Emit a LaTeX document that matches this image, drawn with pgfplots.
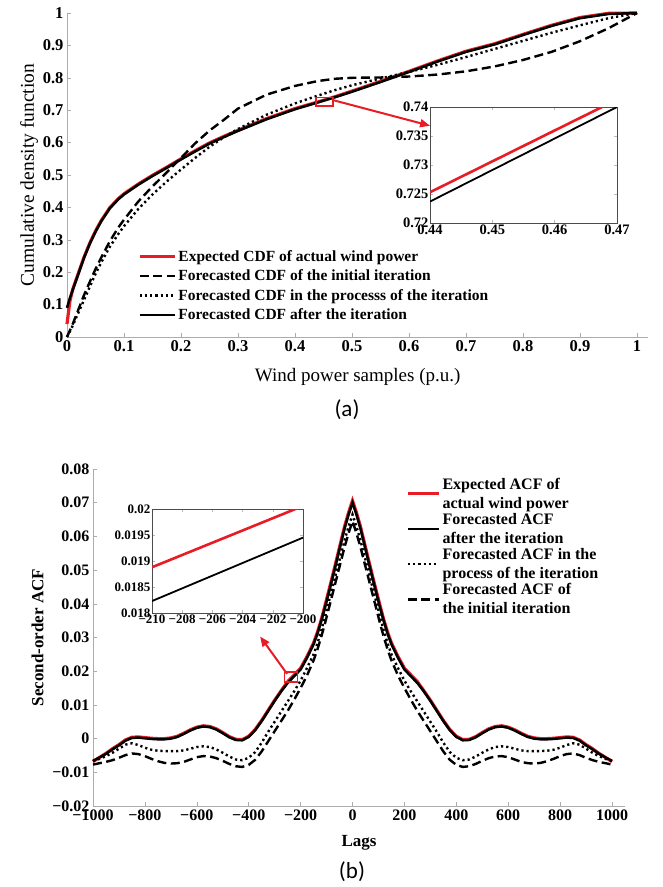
\documentclass[border=0pt]{standalone}
\usepackage{pgfplots}
\pgfplotsset{compat=1.18}
\usepackage{pgfplotstable}
\usepackage{fontspec}
\setmainfont{Liberation Serif}
\newfontfamily\capfont{Carlito}
\usetikzlibrary{arrows.meta}
\newcommand{\fs}[1]{\fontsize{#1}{#1}\selectfont}
\definecolor{myred}{RGB}{232,28,36}

\pgfplotstableread{
x     exp     init   proc   after
0     0.040   0.000  0.000  0.090
0.005 0.110   0.020  0.017  0.120
0.01  0.147   0.040  0.035  0.145
0.02  0.197   0.085  0.075  0.195
0.03  0.247   0.130  0.115  0.245
0.04  0.290   0.170  0.155  0.288
0.05  0.327   0.210  0.195  0.325
0.06  0.359   0.245  0.230  0.357
0.075 0.399   0.295  0.278  0.397
0.09  0.427   0.338  0.318  0.425
0.1   0.442   0.362  0.342  0.440
0.125 0.472   0.418  0.395  0.470
0.15  0.499   0.465  0.440  0.497
0.175 0.524   0.508  0.480  0.522
0.2   0.550   0.553  0.517  0.548
0.225 0.575   0.598  0.553  0.573
0.25  0.599   0.637  0.587  0.597
0.275 0.619   0.670  0.616  0.617
0.3   0.638   0.705  0.642  0.636
0.35  0.674   0.748  0.686  0.672
0.4   0.705   0.775  0.721  0.703
0.44  0.7253  0.790  0.745  0.724
0.47  0.7415  0.797  0.762  0.740
0.5   0.759   0.800  0.777  0.757
0.55  0.789   0.801  0.798  0.787
0.6   0.820   0.804  0.818  0.818
0.65  0.852   0.810  0.840  0.850
0.7   0.882   0.820  0.864  0.880
0.75  0.905   0.835  0.889  0.903
0.8   0.934   0.855  0.914  0.932
0.85  0.962   0.880  0.939  0.960
0.9   0.986   0.913  0.962  0.984
0.95  0.999   0.953  0.984  0.997
1.0   1.000   1.000  1.000  1.000
}\cdftab

\pgfplotstableread{
lag exp after proc init
-1000 -0.0068 -0.0066 -0.0067 -0.0077
-975 -0.0056 -0.0056 -0.0060 -0.0073
-950 -0.0044 -0.0045 -0.0052 -0.0069
-925 -0.0030 -0.0032 -0.0042 -0.0064
-900 -0.0018 -0.0020 -0.0030 -0.0057
-875 -0.0004 -0.0006 -0.0018 -0.0049
-850 0.0004 0.0002 -0.0014 -0.0044
-825 0.0005 0.0003 -0.0019 -0.0046
-800 0.0003 0.0001 -0.0027 -0.0052
-775 0.0001 -0.0001 -0.0033 -0.0060
-750 0.0000 -0.0002 -0.0036 -0.0067
-725 0.0000 -0.0002 -0.0037 -0.0072
-700 0.0002 0.0000 -0.0037 -0.0074
-675 0.0007 0.0005 -0.0037 -0.0073
-650 0.0016 0.0014 -0.0035 -0.0069
-625 0.0026 0.0024 -0.0030 -0.0062
-600 0.0034 0.0032 -0.0025 -0.0055
-575 0.0038 0.0036 -0.0023 -0.0052
-550 0.0036 0.0034 -0.0025 -0.0053
-525 0.0029 0.0027 -0.0032 -0.0058
-500 0.0018 0.0016 -0.0042 -0.0066
-475 0.0006 0.0004 -0.0053 -0.0075
-450 -0.0002 -0.0004 -0.0062 -0.0082
-425 -0.0003 -0.0005 -0.0064 -0.0084
-400 0.0007 0.0005 -0.0057 -0.0078
-375 0.0027 0.0025 -0.0040 -0.0063
-350 0.0054 0.0052 -0.0012 -0.0038
-325 0.0084 0.0082 0.0020 -0.0008
-300 0.0114 0.0112 0.0050 0.0022
-275 0.0142 0.0140 0.0080 0.0052
-250 0.0169 0.0165 0.0110 0.0082
-225 0.0189 0.0185 0.0140 0.0115
-200 0.0209 0.0205 0.0172 0.0150
-175 0.0244 0.0240 0.0210 0.0188
-150 0.0284 0.0280 0.0250 0.0232
-135 0.0316 0.0312 0.0283 0.0265
-120 0.0354 0.0350 0.0322 0.0303
-105 0.0398 0.0392 0.0365 0.0345
-90 0.0443 0.0437 0.0410 0.0390
-75 0.0489 0.0483 0.0455 0.0435
-60 0.0536 0.0530 0.0500 0.0480
-45 0.0584 0.0578 0.0545 0.0525
-30 0.0631 0.0625 0.0590 0.0570
-15 0.0671 0.0665 0.0630 0.0610
0 0.0706 0.0700 0.0665 0.0645
15 0.0671 0.0665 0.0630 0.0610
30 0.0631 0.0625 0.0590 0.0570
45 0.0584 0.0578 0.0545 0.0525
60 0.0536 0.0530 0.0500 0.0480
75 0.0489 0.0483 0.0455 0.0435
90 0.0443 0.0437 0.0410 0.0390
105 0.0398 0.0392 0.0365 0.0345
120 0.0354 0.0350 0.0322 0.0303
135 0.0316 0.0312 0.0283 0.0265
150 0.0284 0.0280 0.0250 0.0232
175 0.0244 0.0240 0.0210 0.0188
200 0.0209 0.0205 0.0172 0.0150
225 0.0189 0.0185 0.0140 0.0115
250 0.0169 0.0165 0.0110 0.0082
275 0.0142 0.0140 0.0080 0.0052
300 0.0114 0.0112 0.0050 0.0022
325 0.0084 0.0082 0.0020 -0.0008
350 0.0054 0.0052 -0.0012 -0.0038
375 0.0027 0.0025 -0.0040 -0.0063
400 0.0007 0.0005 -0.0057 -0.0078
425 -0.0003 -0.0005 -0.0064 -0.0084
450 -0.0002 -0.0004 -0.0062 -0.0082
475 0.0006 0.0004 -0.0053 -0.0075
500 0.0018 0.0016 -0.0042 -0.0066
525 0.0029 0.0027 -0.0032 -0.0058
550 0.0036 0.0034 -0.0025 -0.0053
575 0.0038 0.0036 -0.0023 -0.0052
600 0.0034 0.0032 -0.0025 -0.0055
625 0.0026 0.0024 -0.0030 -0.0062
650 0.0016 0.0014 -0.0035 -0.0069
675 0.0007 0.0005 -0.0037 -0.0073
700 0.0002 0.0000 -0.0037 -0.0074
725 0.0000 -0.0002 -0.0037 -0.0072
750 0.0000 -0.0002 -0.0036 -0.0067
775 0.0001 -0.0001 -0.0033 -0.0060
800 0.0003 0.0001 -0.0027 -0.0052
825 0.0005 0.0003 -0.0019 -0.0046
850 0.0004 0.0002 -0.0014 -0.0044
875 -0.0004 -0.0006 -0.0018 -0.0049
900 -0.0018 -0.0020 -0.0030 -0.0057
925 -0.0030 -0.0032 -0.0042 -0.0064
950 -0.0044 -0.0045 -0.0052 -0.0069
975 -0.0056 -0.0056 -0.0060 -0.0073
1000 -0.0068 -0.0066 -0.0067 -0.0077
}\acftab

\pgfplotsset{
  mainax/.style={scale only axis, axis lines=left,
    axis line style={-, draw=gray!65, line width=0.8pt},
    tick style={draw=gray!65, line width=0.6pt}, major tick length=4pt,
    tick align=inside, clip=false, scaled ticks=false},
  insetax/.style={scale only axis, axis background/.style={fill=white},
    axis line style={draw=black!70, line width=0.8pt},
    tick style={draw=gray!55, line width=0.5pt}, major tick length=3pt,
    tick align=inside, scaled ticks=false},
  redln/.style={draw=myred, line width=3.2pt},
  blkln/.style={draw=black, line width=2.5pt},
  dashln/.style={draw=black, line width=2.4pt, dash pattern=on 9pt off 4.5pt},
  dotln/.style={draw=black, line width=2.4pt, dash pattern=on 2.2pt off 3pt},
}

\begin{document}
\begin{tikzpicture}
\path[use as bounding box] (0pt,0pt) rectangle (663pt,-887pt);

% ---------- panel (a) ----------
\begin{axis}[mainax, at={(67pt,-337pt)}, anchor=south west,
  width=581.4pt, height=324pt, xmin=0, xmax=1.02, ymin=0, ymax=1,
  xtick={0,0.1,0.2,0.3,0.4,0.5,0.6,0.7,0.8,0.9,1},
  xticklabels={0,0.1,0.2,0.3,0.4,0.5,0.6,0.7,0.8,0.9,1},
  ytick={0,0.1,0.2,0.3,0.4,0.5,0.6,0.7,0.8,0.9,1},
  yticklabels={0,0.1,0.2,0.3,0.4,0.5,0.6,0.7,0.8,0.9,1},
  tick label style={font=\bfseries\fs{16.5}},
  xlabel={Wind power samples (p.u.)}, xlabel style={font=\fs{19}, yshift=-10pt},
  ylabel={Cumulative density function}, ylabel style={font=\fs{19.5}, yshift=-2pt},
  legend style={at={(0.117,0.281)}, anchor=north west, draw=none, fill=none,
    font=\bfseries\fs{15.5}, row sep=3.2pt},
  legend cell align=left,
  legend image code/.code={\draw[#1] (0pt,0pt) -- (35pt,0pt);}]
\addplot[redln] table[x=x,y=exp] {\cdftab};
\addlegendentry{Expected CDF of actual wind power}
\addplot[dashln] table[x=x,y=init] {\cdftab};
\addlegendentry{Forecasted CDF of the initial iteration}
\addplot[dotln] table[x=x,y=proc] {\cdftab};
\addlegendentry{Forecasted CDF in the processs of the iteration}
\addplot[blkln] table[x=x,y=after] {\cdftab};
\addlegendentry{Forecasted CDF after the iteration}
\draw[myred, line width=1.6pt] (axis cs:0.437,0.713) rectangle (axis cs:0.467,0.739);
\draw[myred, line width=2pt, -{Triangle[length=10pt,width=8pt]}] (axis cs:0.467,0.731) -- (axis cs:0.637,0.652);
\end{axis}

\begin{axis}[insetax, at={(430pt,-223pt)}, anchor=south west,
  width=187pt, height=116pt, xmin=0.44, xmax=0.47, ymin=0.72, ymax=0.74,
  xtick={0.44,0.45,0.46,0.47}, xticklabels={0.44,0.45,0.46,0.47},
  ytick={0.72,0.725,0.73,0.735,0.74}, yticklabels={0.72,0.725,0.73,0.735,0.74},
  tick label style={font=\bfseries\fs{14.5}},
  xticklabel style={yshift=2pt}, yticklabel style={xshift=2pt}]
\addplot[draw=myred, line width=2.6pt] coordinates {(0.44,0.7253) (0.4676,0.7400) (0.47,0.7413)};
\addplot[draw=black, line width=1.8pt] coordinates {(0.44,0.7237) (0.47,0.7400)};
\end{axis}

\node[font=\capfont\fs{23}] at (347pt,-410pt) {(a)};

% ---------- panel (b) ----------
\begin{axis}[mainax, at={(93pt,-806pt)}, anchor=south west,
  width=532pt, height=337pt, xmin=-1000, xmax=1050, ymin=-0.02, ymax=0.08,
  xtick={-1000,-800,-600,-400,-200,0,200,400,600,800,1000},
  xticklabels={−1000,−800,−600,−400,−200,0,200,400,600,800,1000},
  ytick={-0.02,-0.01,0,0.01,0.02,0.03,0.04,0.05,0.06,0.07,0.08},
  yticklabels={−0.02,−0.01,0,0.01,0.02,0.03,0.04,0.05,0.06,0.07,0.08},
  tick label style={font=\bfseries\fs{16}},
  xlabel={Lags}, xlabel style={font=\bfseries\fs{17}, yshift=-8pt},
  ylabel={Second-order ACF}, ylabel style={font=\bfseries\fs{17}, yshift=2pt},
  legend style={at={(0.583,0.985)}, anchor=north west, draw=none, fill=none,
    font=\bfseries\fontsize{16}{18.5}\selectfont, row sep=0pt, nodes={align=left}},
  legend cell align=left,
  legend image code/.code={\draw[#1] (0pt,0pt) -- (31pt,0pt);}]
\addplot[redln] table[x=lag,y=exp] {\acftab};
\addlegendentry{Expected ACF of\\actual wind power}
\addplot[blkln] table[x=lag,y=after] {\acftab};
\addlegendentry{Forecasted ACF\\after the iteration}
\addplot[dotln] table[x=lag,y=proc] {\acftab};
\addlegendentry{Forecasted ACF in the\\process of the iteration}
\addplot[dashln] table[x=lag,y=init] {\acftab};
\addlegendentry{Forecasted ACF of\\the initial iteration}
\draw[myred, line width=1.6pt] (axis cs:-262,0.0168) rectangle (axis cs:-212,0.0198);
\draw[myred, line width=2pt, -{Triangle[length=10pt,width=8pt]}] (axis cs:-252,0.0192) -- (axis cs:-356,0.0303);
\end{axis}

\begin{axis}[insetax, at={(152pt,-613pt)}, anchor=south west,
  width=151pt, height=104pt, xmin=-210, xmax=-200, ymin=0.018, ymax=0.02,
  xtick={-210,-208,-206,-204,-202,-200},
  xticklabels={−210,−208,−206,−204,−202,−200},
  ytick={0.018,0.0185,0.019,0.0195,0.02},
  yticklabels={0.018,0.0185,0.019,0.0195,0.02},
  tick label style={font=\bfseries\fs{13}},
  xticklabel style={yshift=2pt}, yticklabel style={xshift=2pt}]
\addplot[draw=myred, line width=2.6pt] coordinates {(-210,0.01888) (-200.5,0.02) (-200,0.02006)};
\addplot[draw=black, line width=1.8pt] coordinates {(-210,0.01823) (-200,0.01945)};
\end{axis}

\node[font=\capfont\fs{23}] at (352pt,-872pt) {(b)};
\end{tikzpicture}
\end{document}
